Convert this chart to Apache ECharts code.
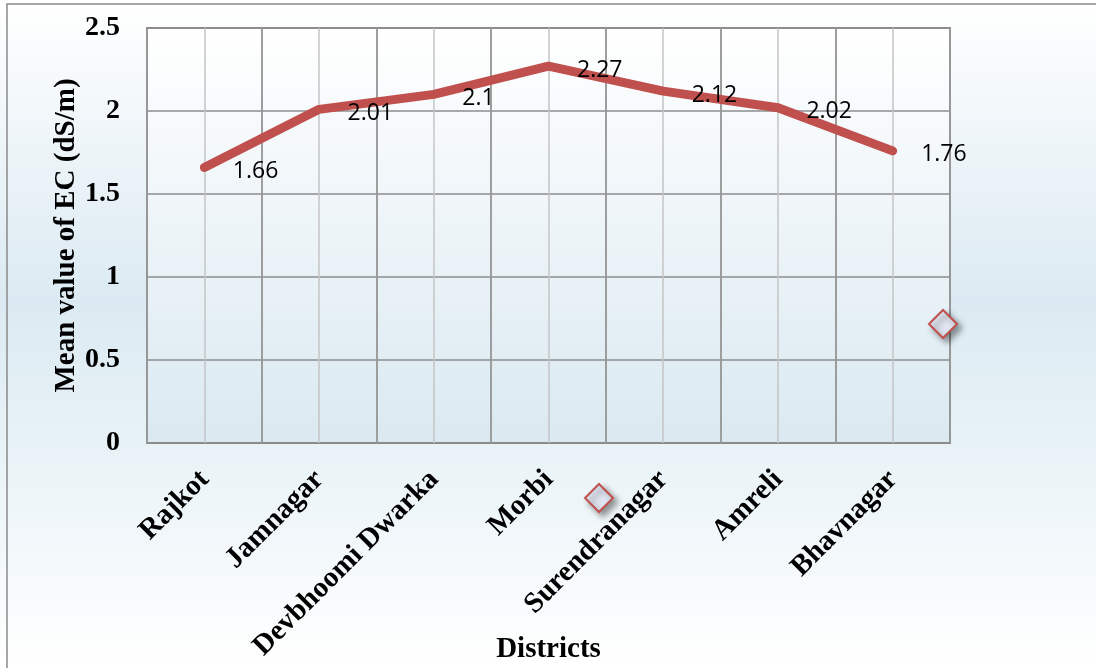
<!DOCTYPE html>
<html>
<head>
<meta charset="utf-8">
<title>Mean value of EC by district</title>
<script src="https://cdn.jsdelivr.net/npm/echarts@6/dist/echarts.min.js"></script>
<style>
  html, body { margin: 0; padding: 0; background: #ffffff; }
  #chart { width: 1096px; height: 668px; }
</style>
</head>
<body>
<div id="chart"></div>
<script>
// Districts on the category axis
const districts = ['Rajkot', 'Jamnagar', 'Devbhoomi Dwarka', 'Morbi', 'Surendranagar', 'Amreli', 'Bhavnagar'];
// Mean EC per district (dS/m)
const meanEC = [1.66, 2.01, 2.1, 2.27, 2.12, 2.02, 1.76];
// Value axis range and step
const yMin = 0;
const yMax = 2.5;
const yStep = 0.5;

const serif = '"Liberation Serif", "Times New Roman", serif';
const lineRed = '#c0504d';

const chart = echarts.init(document.getElementById('chart'), null, { renderer: 'canvas' });

// small decorative diamond with a soft drop shadow
function diamond(cx, cy) {
  const r = 14;
  return {
    type: 'polygon',
    z: 100,
    shape: { points: [[cx, cy - r], [cx + r, cy], [cx, cy + r], [cx - r, cy]] },
    style: {
      fill: '#e0e6f1',
      stroke: lineRed,
      lineWidth: 2,
      shadowBlur: 6,
      shadowOffsetX: 4,
      shadowOffsetY: 4,
      shadowColor: 'rgba(0,0,0,0.4)'
    }
  };
}

chart.setOption({
  backgroundColor: {
    type: 'linear', x: 0, y: 0, x2: 0, y2: 1,
    colorStops: [
      { offset: 0, color: '#ffffff' },
      { offset: 0.45, color: '#dbeaf2' },
      { offset: 0.68, color: '#e9f3f7' },
      { offset: 1, color: '#ffffff' }
    ]
  },
  animation: false,
  graphic: [
    {
      type: 'rect',
      z: 50,
      shape: { x: 7, y: 4, width: 1200, height: 800 },
      style: { fill: 'none', stroke: '#8a8a8a', lineWidth: 1.5 }
    },
    diamond(599, 498),
    diamond(943, 324)
  ],
  grid: {
    left: 147, right: 146, top: 28, bottom: 225,
    outerBoundsMode: 'none',
    containLabel: false,
    show: true,
    borderColor: '#8c8c8c',
    borderWidth: 2,
    backgroundColor: {
      type: 'linear', x: 0, y: 0, x2: 0, y2: 1,
      colorStops: [
        { offset: 0, color: '#ffffff' },
        { offset: 1, color: '#dae9f1' }
      ]
    }
  },
  xAxis: [
    {
      type: 'category',
      data: districts,
      boundaryGap: true,
      z: 2,
      name: 'Districts',
      nameLocation: 'middle',
      nameGap: 192,
      nameMoveOverlap: false,
      nameTextStyle: { fontFamily: serif, fontWeight: 'bold', fontSize: 29, color: '#000', verticalAlign: 'top' },
      axisLine: { show: false },
      axisTick: { show: false },
      axisLabel: {
        rotate: 45,
        align: 'right',
        verticalAlign: 'top',
        margin: 12,
        padding: [0, 14, 0, 0],
        interval: 0,
        fontFamily: serif,
        fontWeight: 'bold',
        fontSize: 29,
        color: '#000'
      },
      splitLine: { show: true, interval: 0, lineStyle: { color: '#8c8c8c', width: 1.5 } }
    },
    {
      // finer vertical grid through every category centre
      type: 'value',
      position: 'top',
      min: 0,
      max: districts.length * 2,
      interval: 1,
      z: 1,
      axisLine: { show: false },
      axisTick: { show: false },
      axisLabel: { show: false },
      splitLine: { show: true, lineStyle: { color: '#c4c4c4', width: 1.5 } }
    }
  ],
  yAxis: {
    type: 'value',
    min: yMin,
    max: yMax,
    interval: yStep,
    name: 'Mean value of EC (dS/m)',
    nameLocation: 'middle',
    nameGap: 66,
    nameMoveOverlap: false,
    nameTextStyle: { fontFamily: serif, fontWeight: 'bold', fontSize: 29, color: '#000' },
    axisLine: { show: false },
    axisTick: { show: false },
    axisLabel: {
      margin: 27,
      fontFamily: serif,
      fontWeight: 'bold',
      fontSize: 28,
      color: '#000'
    },
    splitLine: { show: true, lineStyle: { color: '#8c8c8c', width: 1.5 } }
  },
  series: [
    {
      type: 'line',
      xAxisIndex: 0,
      data: meanEC,
      showSymbol: true,
      symbol: 'circle',
      symbolSize: 1,
      itemStyle: { color: 'rgba(0,0,0,0)' },
      z: 10,
      lineStyle: { color: lineRed, width: 9, cap: 'round', join: 'round' },
      label: {
        show: true,
        position: 'right',
        distance: 28,
        offset: [0, 4],
        fontFamily: '"Open Sans", "Liberation Sans", sans-serif',
        fontSize: 23,
        color: '#000'
      }
    }
  ]
});
</script>
</body>
</html>
